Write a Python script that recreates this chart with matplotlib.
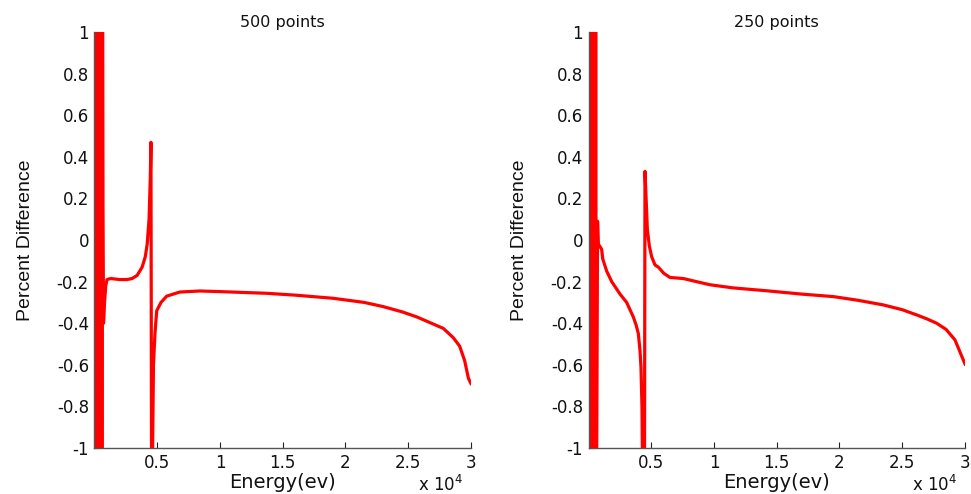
import matplotlib
matplotlib.use('Agg')
import matplotlib.pyplot as plt

# percent difference vs energy
# 500 points
energy_500 = [40, 90, 140, 190, 240, 290, 340, 390, 440, 490, 540, 590, 640, 680,
              720, 800, 900, 1000, 1300, 2000, 2600, 3000, 3400, 3800, 4050, 4200,
              4350, 4450, 4500, 4560, 4600, 4700, 4820, 4960, 5300, 5750, 6800,
              8400, 10000, 13700, 16000, 19000, 21500, 23000, 24500, 25700, 27800,
              28600, 29100, 29500, 29800, 30000]
diff_500 = [1.5, -1.5, 1.5, -1.5, 1.5, -1.5, 1.5, -1.5, 1.5, -1.5, 1.5, -1.5, 1.5, 0.15,
            -0.4, -0.3, -0.22, -0.19, -0.185, -0.19, -0.19, -0.185, -0.17, -0.13, -0.08, -0.02,
            0.1, 0.3, 0.47, -1.5, -1.2, -0.6, -0.45, -0.34, -0.3, -0.27, -0.25,
            -0.245, -0.248, -0.256, -0.265, -0.28, -0.3, -0.32, -0.345, -0.37, -0.425,
            -0.47, -0.51, -0.58, -0.665, -0.69]

# 250 points
energy_250 = [20, 70, 120, 170, 220, 270, 320, 370, 420, 470, 520, 570, 620, 680,
              720, 780, 900, 1050, 1130, 1450, 1850, 2510, 3040, 3570, 3800, 3970,
              4100, 4180, 4260, 4320, 4450, 4500, 4690, 4850, 5030, 5300, 5560, 6000,
              6490, 7550, 8884, 9680, 11500, 14200, 17000, 19510, 21500, 23490, 25000,
              26150, 27000, 27740, 28500, 29200, 30000]
diff_250 = [-1.5, 1.5, -1.5, 1.5, -1.5, 1.5, -1.5, 1.5, -1.5, 1.5, -1.5, 1.5, -1.5, -0.59,
            0.09, -0.02, -0.03, -0.045, -0.09, -0.15, -0.2, -0.26, -0.3, -0.37, -0.41, -0.45,
            -0.53, -0.61, -0.8, -1.2, -1.5, 0.33, 0.05, -0.03, -0.08, -0.12, -0.13, -0.16,
            -0.18, -0.185, -0.204, -0.215, -0.23, -0.244, -0.26, -0.272, -0.29, -0.312, -0.335,
            -0.36, -0.38, -0.4, -0.43, -0.48, -0.596]

xticks = [5000, 10000, 15000, 20000, 25000, 30000]
xtick_labels = ['0.5', '1', '1.5', '2', '2.5', '3']
yticks = [-1, -0.8, -0.6, -0.4, -0.2, 0, 0.2, 0.4, 0.6, 0.8, 1]
ytick_labels = ['-1', '-0.8', '-0.6', '-0.4', '-0.2', '0', '0.2', '0.4', '0.6', '0.8', '1']

plt.rcParams['font.family'] = ['DejaVu Sans']

fig = plt.figure(figsize=(9.71, 4.94), dpi=100)

panels = [(0.0973, energy_500, diff_500, '500 points'),
          (0.6061, energy_250, diff_250, '250 points')]

for left, xs, ys, title in panels:
    ax = fig.add_axes([left, 0.0931, 0.3877, 0.842])
    ax.plot(xs, ys, color='#ff0000', linewidth=2.3)
    ax.set_xlim(0, 30000)
    ax.set_ylim(-1, 1)
    ax.set_xticks(xticks)
    ax.set_xticklabels(xtick_labels)
    ax.set_yticks(yticks)
    ax.set_yticklabels(ytick_labels)
    for s in ['top', 'right']:
        ax.spines[s].set_visible(False)
    for s in ['left', 'bottom']:
        ax.spines[s].set_color('#555555')
        ax.spines[s].set_linewidth(1.0)
    ax.tick_params(direction='in', length=4, width=0.8, labelsize=12, pad=4,
                   color='#222222', labelcolor='#111111')
    ax.set_title(title, fontsize=11.5, pad=4, color='#111111')
    ax.set_xlabel('Energy(ev)', fontsize=14, labelpad=1, color='#111111')
    ax.set_ylabel('Percent Difference', fontsize=14, labelpad=16,
                  family=['Liberation Sans'], color='#111111')
    ax.text(0.92, -0.09, r'x 10$^4$', transform=ax.transAxes, fontsize=12,
            ha='center', va='center', color='#111111')

fig.savefig('out.png', dpi=100)
